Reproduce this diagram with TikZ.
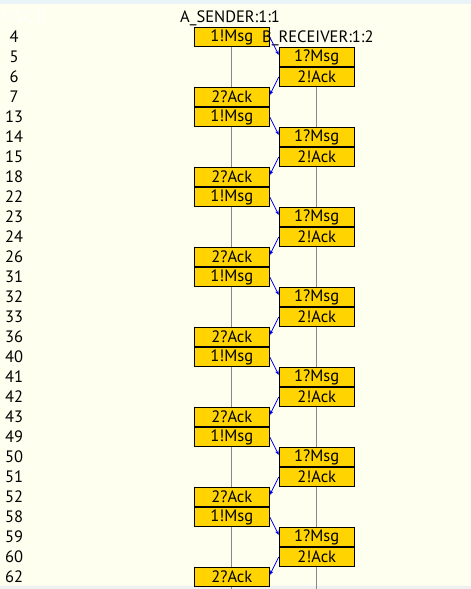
\documentclass[tikz,border=0pt]{standalone}
\usepackage{fontspec}
\setmainfont{PT Sans}
\usetikzlibrary{arrows.meta}
\definecolor{bgcol}{HTML}{FFFFF0}
\definecolor{topcol}{HTML}{E8F4F8}
\definecolor{botcol}{HTML}{F0F0F0}
\definecolor{evfill}{HTML}{FFD400}
\definecolor{lifecol}{HTML}{888888}
\begin{document}
\begin{tikzpicture}[x=1pt,y=-1pt,
  txt/.style={font=\fontsize{16.5}{16.5}\selectfont, inner sep=0pt},
  ev/.style={draw=black, line width=0.9pt, fill=evfill, minimum width=75pt, minimum height=19.6pt, inner sep=0pt, font=\fontsize{16.5}{16.5}\selectfont},
  lifeline/.style={draw=lifecol, line width=1.2pt},
  msg/.style={draw=blue, line width=0.8pt, -{Stealth[length=4.5pt,width=3.5pt]}}]
\useasboundingbox (0,0) rectangle (471,589);
\fill[topcol] (0,0) rectangle (471,4);
\fill[bgcol] (0,4) rectangle (471,586);
\fill[botcol] (0,586) rectangle (471,589);
% hidden white title
\node[txt, white, anchor=base west] (msc) at (1,22) {MSC 0};
% instance head of A
\node[txt, anchor=base west] (atitle) at (180,22) {A\_SENDER:1:1};
% lifelines
\coordinate (atop) at (231.8,47);
\coordinate (abot) at (231.8,589);
\coordinate (btop) at (316.7,86);
\coordinate (bbot) at (316.7,589);
\draw[lifeline] (atop) -- (abot);
\draw[lifeline] (btop) -- (bbot);
% row numbers
\foreach \n [count=\i from 0] in {4,5,6,7,13,14,15,18,22,23,24,26,31,32,33,36,40,41,42,43,49,50,51,52,58,59,60,62}{
  \node[txt] (row\i) at (14,37+20*\i) {\n};
}
% sender events
\foreach \k in {0,...,6}{
  \pgfmathtruncatemacro{\ra}{4*\k}
  \pgfmathtruncatemacro{\rd}{4*\k+3}
  \node[ev] (s\ra) at (231.8,37+20*\ra) {1!Msg};
  \node[ev] (s\rd) at (231.8,37+20*\rd) {2?Ack};
}
% instance head of B (over the sender box)
\node[txt, anchor=base west] (btitle) at (262,42) {B\_RECEIVER:1:2};
% receiver events and messages
\foreach \k in {0,...,6}{
  \pgfmathtruncatemacro{\ra}{4*\k}
  \pgfmathtruncatemacro{\rb}{4*\k+1}
  \pgfmathtruncatemacro{\rc}{4*\k+2}
  \pgfmathtruncatemacro{\rd}{4*\k+3}
  \node[ev] (r\rb) at (316.7,37+20*\rb) {1?Msg};
  \node[ev] (r\rc) at (316.7,37+20*\rc) {2!Ack};
  \draw[msg] (s\ra.east) -- ([yshift=2pt]r\rb.west);
  \draw[msg] (r\rc.west) -- ([yshift=2pt]s\rd.east);
}
\end{tikzpicture}
\end{document}
